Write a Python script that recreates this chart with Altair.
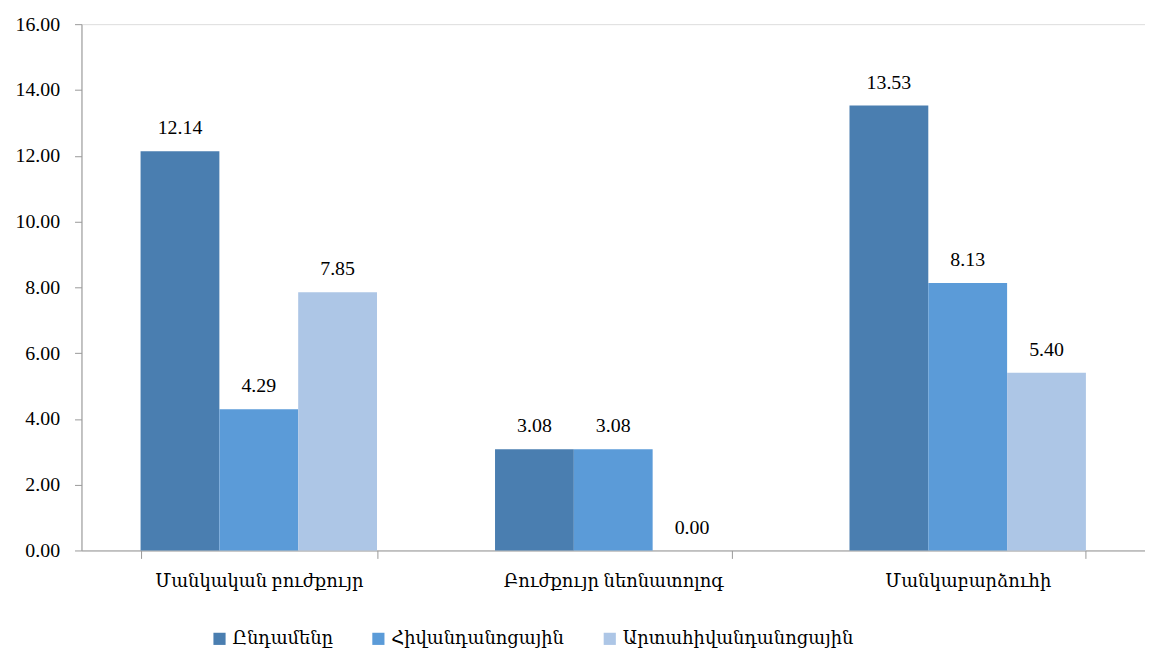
import altair as alt
import pandas as pd

categories = ["Մանկական բուժքույր", "Բուժքույր նեոնատոլոգ", "Մանկաբարձուհի"]
series = ["Ընդամենը", "Հիվանդանոցային", "Արտահիվանդանոցային"]
values_total = [12.14, 3.08, 13.53]
values_hosp = [4.29, 3.08, 8.13]
values_out = [7.85, 0.00, 5.40]
colors = ["#4A7EB0", "#5B9BD8", "#ADC6E6"]

rows = []
for i, c in enumerate(categories):
    for s, vals in zip(series, [values_total, values_hosp, values_out]):
        rows.append({"category": c, "series": s, "value": vals[i]})
df = pd.DataFrame(rows)

FONT = "Liberation Serif, DejaVu Serif, serif"
FS = 20
FS_ARM = 18

base = alt.Chart(df).encode(
    x=alt.X("category:N", sort=categories, title=None,
            scale=alt.Scale(paddingInner=0.333, paddingOuter=0.1667),
            axis=alt.Axis(labelAngle=0, tickBand="extent", tickSize=8,
                          labelPadding=14, labelFontSize=FS_ARM, labelFont=FONT,
                          labelLimit=500,
                          labelColor="#000", domainColor="#999", tickColor="#999")),
    xOffset=alt.XOffset("series:N", sort=series),
    y=alt.Y("value:Q", title=None,
            scale=alt.Scale(domain=[0, 16], nice=False),
            axis=alt.Axis(values=[0, 2, 4, 6, 8, 10, 12, 14, 16], format=".2f",
                          grid=False, tickSize=7, labelPadding=15,
                          labelFontSize=FS, labelFont=FONT, labelColor="#000",
                          domainColor="#999", tickColor="#999")),
)

bars = base.mark_bar().encode(
    color=alt.Color("series:N", sort=series,
                    scale=alt.Scale(domain=series, range=colors),
                    legend=alt.Legend(title=None, orient="none", direction="horizontal",
                                      legendX=130, legendY=610,
                                      symbolType="square", symbolSize=150,
                                      symbolStrokeWidth=0,
                                      labelFontSize=FS_ARM, labelFont=FONT, labelColor="#000",
                                      columnPadding=36, labelLimit=500))
)

labels = base.mark_text(baseline="bottom", dy=-13, fontSize=FS, font=FONT, color="#000").encode(
    text=alt.Text("value:Q", format=".2f")
)

chart = (bars + labels).properties(
    width=1071, height=530,
    padding={"left": 7, "top": 4, "right": 0, "bottom": 5},
).configure_view(stroke=None).configure(background="white")

chart.save("out.html", embed_options={"renderer": "svg", "actions": False})
